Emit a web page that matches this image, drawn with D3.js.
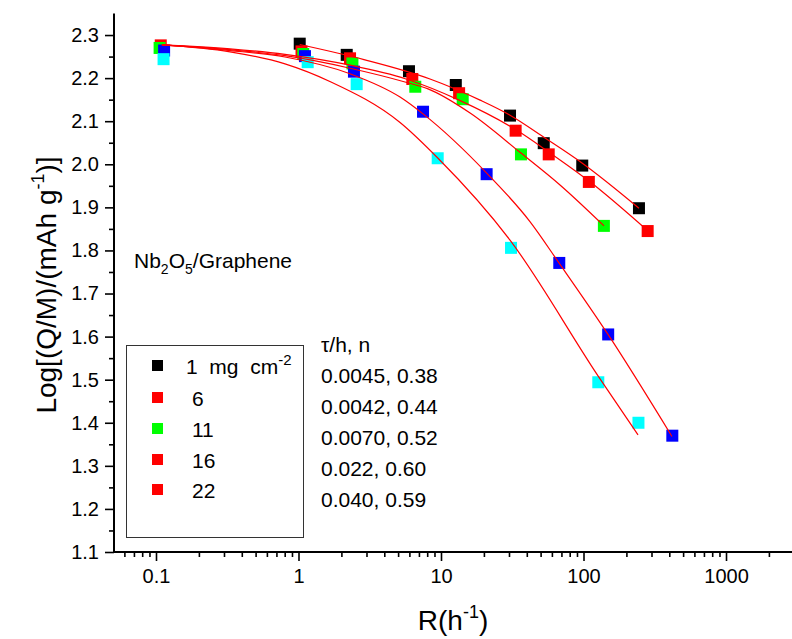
<!DOCTYPE html>
<html>
<head>
<meta charset="utf-8">
<script src="https://cdn.jsdelivr.net/npm/d3@7"></script>
<style>
  html, body { margin: 0; padding: 0; background: #fff; }
  svg { display: block; font-family: "Liberation Sans", Arial, sans-serif; }
</style>
</head>
<body>
<svg id="chart" width="792" height="639"></svg>
<script>
// Rate dependence of capacity, Nb2O5/Graphene electrodes at several mass loadings
const seriesLabels = ["1\u00a0 mg\u00a0 cm", "6", "11", "16", "22"];
const seriesColors = ["#000000", "#ff0000", "#00ff00", "#0000ff", "#00ffff"];
const legendColors = ["#000000", "#ff0000", "#00ff00", "#ff0000", "#ff0000"];

// measured points: rate R (1/h) and Log[(Q/M)/(mAh/g)]
const R_1  = [1.02, 2.18, 5.96, 12.7, 30.5, 52.6, 98, 245];
const Q_1  = [2.280, 2.254, 2.216, 2.184, 2.113, 2.049, 1.997, 1.898];
const R_6  = [0.108, 1.05, 2.30, 6.29, 13.4, 33.4, 57, 109, 282];
const Q_6  = [2.276, 2.262, 2.246, 2.198, 2.165, 2.078, 2.023, 1.959, 1.845];
const R_11 = [0.106, 1.08, 2.39, 6.6, 14.2, 36.4, 139];
const Q_11 = [2.270, 2.256, 2.234, 2.180, 2.151, 2.023, 1.857];
const R_16 = [0.114, 1.11, 2.45, 7.48, 20.9, 67.6, 149, 420];
const Q_16 = [2.264, 2.251, 2.215, 2.122, 1.977, 1.771, 1.605, 1.370];
const R_22 = [0.113, 1.16, 2.56, 9.48, 31, 127, 243];
const Q_22 = [2.244, 2.237, 2.186, 2.014, 1.806, 1.494, 1.400];

// fitted curves
const fitR_1  = [1.02, 2.88, 8.37, 18.8, 30.5, 53.7, 97.6, 245];
const fitQ_1  = [2.278, 2.243, 2.198, 2.149, 2.114, 2.061, 2.003, 1.898];
const fitR_6  = [0.110, 0.331, 0.804, 2.30, 5.68, 13.4, 33.6, 57.3, 109.3, 283.6];
const fitQ_6  = [2.277, 2.268, 2.255, 2.230, 2.198, 2.149, 2.080, 2.028, 1.961, 1.845];
const fitR_11 = [0.110, 0.331, 0.804, 2.30, 5.59, 8.11, 16.0, 36.4, 68.4, 139.3];
const fitQ_11 = [2.277, 2.266, 2.252, 2.223, 2.191, 2.175, 2.119, 2.026, 1.952, 1.857];
const fitR_16 = [0.110, 0.331, 0.804, 2.30, 5.16, 7.48, 21.0, 42.1, 67.3, 148.6, 417.9];
const fitQ_16 = [2.277, 2.264, 2.249, 2.210, 2.156, 2.117, 1.979, 1.867, 1.771, 1.605, 1.368];
const fitR_22 = [0.110, 0.331, 0.804, 1.69, 5.16, 9.53, 30.5, 126.4, 241.3];
const fitQ_22 = [2.277, 2.261, 2.233, 2.191, 2.097, 2.014, 1.824, 1.509, 1.372];

// fit parameters
const tauValues = ["0.0045", "0.0042", "0.0070", "0.022", "0.040"];
const nValues   = ["0.38", "0.44", "0.52", "0.60", "0.59"];

// axis ticks
const xMajorTicks = [0.1, 1, 10, 100, 1000];
const yMajorTicks = [1.1, 1.2, 1.3, 1.4, 1.5, 1.6, 1.7, 1.8, 1.9, 2.0, 2.1, 2.2, 2.3];

const points = [[R_1, Q_1], [R_6, Q_6], [R_11, Q_11], [R_16, Q_16], [R_22, Q_22]];
const fits = [[fitR_1, fitQ_1], [fitR_6, fitQ_6], [fitR_11, fitQ_11], [fitR_16, fitQ_16], [fitR_22, fitQ_22]];

const svg = d3.select("#chart");

const x = d3.scaleLog().domain([0.05, 3000]).range([113.1, 794]);
const y = d3.scaleLinear().domain([1.1, 2.35]).range([552, 13.5]);

// minor tick values
const xMinorTicks = [];
[0.01, 0.1, 1, 10, 100, 1000].forEach(d => {
  for (let k = 2; k <= 9; k++) {
    const v = d * k;
    if (v > 0.05 && v < 3000 && !xMajorTicks.includes(v)) xMinorTicks.push(v);
  }
});
const yMinorTicks = d3.range(1.15, 2.3, 0.1);

const axisColor = "#000";

// x axis
const gx = svg.append("g").attr("transform", "translate(0,552)");
gx.append("g").call(d3.axisBottom(x).tickValues(xMinorTicks).tickSize(5).tickSizeOuter(0).tickFormat(""));
gx.append("g").call(d3.axisBottom(x).tickValues(xMajorTicks).tickSize(9).tickSizeOuter(0)
  .tickFormat(d => String(d)).tickPadding(8));
gx.selectAll(".domain").remove();
gx.append("line").attr("x1", x(0.05)).attr("x2", x(3000)).attr("stroke", axisColor).attr("stroke-width", 2);

// y axis
const gy = svg.append("g").attr("transform", "translate(114,0)");
gy.append("g").call(d3.axisLeft(y).tickValues(yMinorTicks).tickSize(5).tickSizeOuter(0).tickFormat(""));
gy.append("g").call(d3.axisLeft(y).tickValues(yMajorTicks).tickSize(9).tickSizeOuter(0)
  .tickFormat(d3.format(".1f")).tickPadding(6));
gy.selectAll(".domain").remove();
gy.append("line").attr("y1", y(1.1)).attr("y2", y(2.35)).attr("stroke", axisColor).attr("stroke-width", 2);

svg.selectAll(".tick line").attr("stroke", axisColor).attr("stroke-width", 1.6);
svg.selectAll(".tick text").attr("font-size", 20).attr("fill", "#000")
  .attr("font-family", "'Liberation Sans', Arial, sans-serif");

// axis titles
svg.append("text").attr("x", 453).attr("y", 630).attr("text-anchor", "middle")
  .attr("font-size", 28).call(t => {
    t.append("tspan").text("R(h");
    t.append("tspan").attr("font-size", 18).attr("dy", -12).text("-1");
    t.append("tspan").attr("dy", 12).text(")");
  });

svg.append("text").attr("transform", "translate(56,285) rotate(-90)").attr("text-anchor", "middle")
  .attr("font-size", 28).call(t => {
    t.append("tspan").text("Log[(Q/M)/(mAh g");
    t.append("tspan").attr("font-size", 18).attr("dy", -12).text("-1");
    t.append("tspan").attr("dy", 12).text(")]");
  });

// markers
const sq = 12;
points.forEach((p, i) => {
  const data = p[0].map((r, j) => [r, p[1][j]]);
  svg.append("g").selectAll("rect").data(data).join("rect")
    .attr("x", d => x(d[0]) - sq / 2)
    .attr("y", d => y(d[1]) - sq / 2)
    .attr("width", sq).attr("height", sq)
    .attr("fill", seriesColors[i]);
});

// fitted curves
const line = d3.line().x(d => x(d[0])).y(d => y(d[1])).curve(d3.curveMonotoneX);
fits.forEach(f => {
  const data = f[0].map((r, j) => [r, f[1][j]]);
  svg.append("path").datum(data).attr("d", line)
    .attr("fill", "none").attr("stroke", "#ff0000").attr("stroke-width", 1.2);
});

// sample label
svg.append("text").attr("x", 134).attr("y", 268).attr("font-size", 21).call(t => {
  t.append("tspan").text("Nb");
  t.append("tspan").attr("font-size", 14).attr("dy", 6).text("2");
  t.append("tspan").attr("dy", -6).text("O");
  t.append("tspan").attr("font-size", 14).attr("dy", 6).text("5");
  t.append("tspan").attr("dy", -6).text("/Graphene");
});

// legend
svg.append("rect").attr("x", 126.5).attr("y", 345.5).attr("width", 177).attr("height", 192)
  .attr("fill", "none").attr("stroke", "#333").attr("stroke-width", 1);
const legendBase = [374, 406, 437, 468, 498];
seriesLabels.forEach((lab, i) => {
  svg.append("rect").attr("x", 152).attr("y", legendBase[i] - 14).attr("width", 11).attr("height", 11)
    .attr("fill", legendColors[i]);
  const t = svg.append("text").attr("x", i === 0 ? 186 : 192).attr("y", legendBase[i]).attr("font-size", 21);
  t.append("tspan").text(lab);
  if (i === 0) t.append("tspan").attr("font-size", 15).attr("dy", -9).text("-2");
});

// fit parameter table
const paramBase = [352, 383, 414, 445, 476, 507];
svg.append("text").attr("x", 321).attr("y", paramBase[0]).attr("font-size", 21).text("\u03c4/h, n");
tauValues.forEach((tv, i) => {
  svg.append("text").attr("x", 321).attr("y", paramBase[i + 1]).attr("font-size", 21)
    .text(tv + ", " + nValues[i]);
});
</script>
</body>
</html>
